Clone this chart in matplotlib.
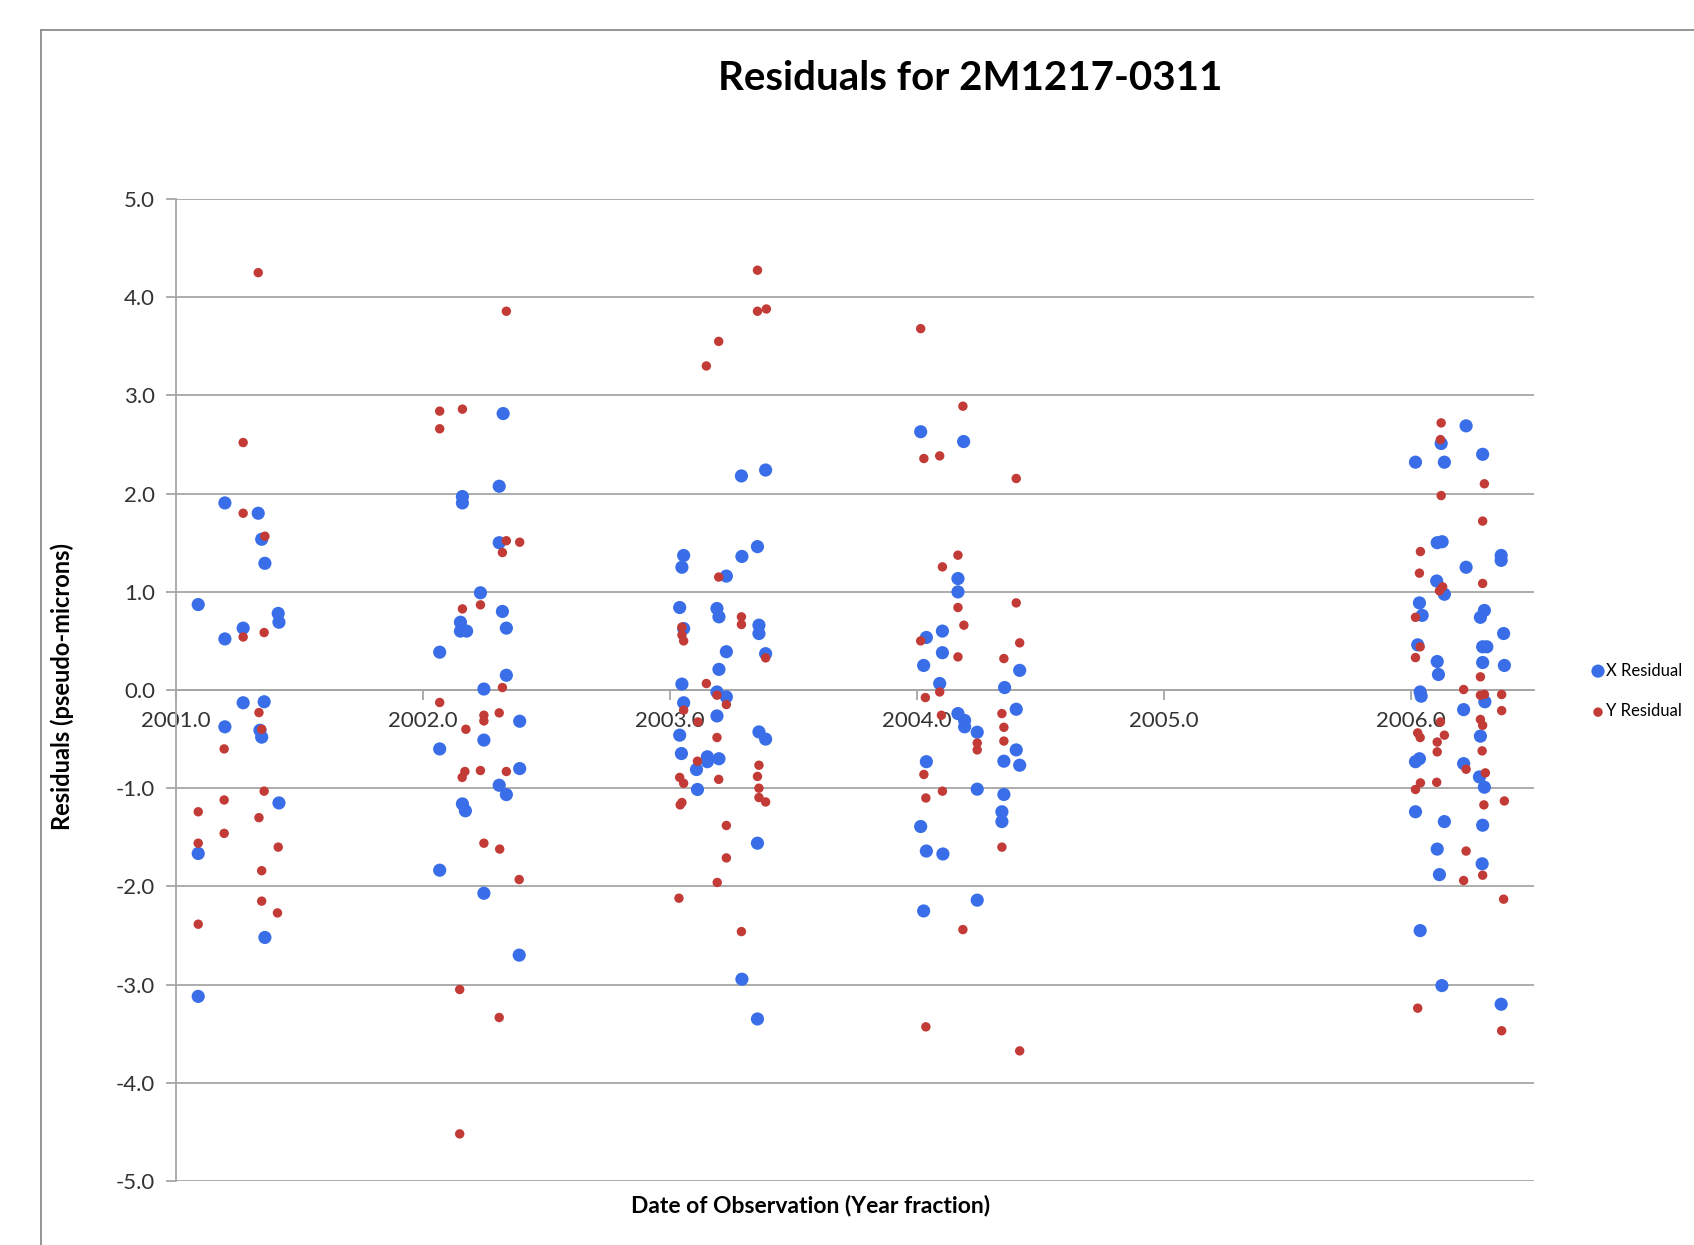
import matplotlib.pyplot as plt
from matplotlib.lines import Line2D
from matplotlib.ticker import FormatStrFormatter, MultipleLocator

plt.rcParams['font.family'] = ['Lato', 'DejaVu Sans']

# X residuals (blue)
x_dates = [
    2001.198, 2001.333, 2001.347, 2001.360, 2001.090, 2001.414, 2001.417, 2001.198, 2001.272,
    2001.272, 2001.357, 2001.198, 2001.340, 2001.347, 2001.417, 2001.090, 2001.360, 2001.090,
    2002.325, 2002.309, 2002.160, 2002.160, 2002.309, 2002.233, 2002.322, 2002.152, 2002.152,
    2002.177, 2002.338, 2002.068, 2002.338, 2002.247, 2002.392, 2002.247, 2002.068, 2002.392,
    2002.309, 2002.338, 2002.160, 2002.172, 2002.068, 2002.247, 2002.390,
    2003.290, 2003.388, 2003.355, 2003.292, 2003.056, 2003.049, 2003.229, 2003.040, 2003.191,
    2003.199, 2003.361, 2003.361, 2003.056, 2003.229, 2003.388, 2003.199, 2003.049, 2003.191,
    2003.229, 2003.056, 2003.191, 2003.040, 2003.361, 2003.388, 2003.047, 2003.152, 2003.152,
    2003.199, 2003.108, 2003.112, 2003.355, 2003.292, 2003.355,
    2004.016, 2004.190, 2004.167, 2004.167, 2004.104, 2004.039, 2004.104, 2004.028, 2004.417,
    2004.093, 2004.356, 2004.167, 2004.194, 2004.194, 2004.403, 2004.245, 2004.403, 2004.353,
    2004.417, 2004.039, 2004.245, 2004.353, 2004.345, 2004.345, 2004.016, 2004.039, 2004.106,
    2004.245, 2004.028,
    2006.225, 2006.124, 2006.292, 2006.020, 2006.137, 2006.108, 2006.128, 2006.367, 2006.367,
    2006.225, 2006.106, 2006.137, 2006.036, 2006.047, 2006.299, 2006.283, 2006.377, 2006.029,
    2006.292, 2006.309, 2006.108, 2006.292, 2006.380, 2006.113, 2006.039, 2006.043, 2006.301,
    2006.215, 2006.283, 2006.036, 2006.020, 2006.215, 2006.279, 2006.299, 2006.020, 2006.137,
    2006.292, 2006.108, 2006.290, 2006.117, 2006.039, 2006.127, 2006.367,
]
x_resid = [
    1.905, 1.80, 1.535, 1.29, 0.87, 0.78, 0.69, 0.52, 0.63,
    -0.13, -0.12, -0.375, -0.41, -0.48, -1.15, -1.665, -2.52, -3.12,
    2.815, 2.075, 1.97, 1.905, 1.50, 0.99, 0.80, 0.69, 0.60,
    0.60, 0.63, 0.385, 0.15, 0.01, -0.318, -0.51, -0.60, -0.80,
    -0.97, -1.065, -1.16, -1.23, -1.835, -2.07, -2.70,
    2.18, 2.24, 1.46, 1.36, 1.37, 1.25, 1.16, 0.84, 0.83,
    0.745, 0.66, 0.575, 0.626, 0.39, 0.37, 0.21, 0.06, -0.02,
    -0.07, -0.13, -0.264, -0.46, -0.427, -0.50, -0.647, -0.68, -0.73,
    -0.70, -0.81, -1.013, -1.56, -2.945, -3.35,
    2.63, 2.53, 1.135, 0.999, 0.60, 0.535, 0.38, 0.25, 0.20,
    0.066, 0.025, -0.24, -0.31, -0.375, -0.196, -0.43, -0.61, -0.725,
    -0.766, -0.73, -1.01, -1.064, -1.24, -1.34, -1.39, -1.64, -1.67,
    -2.14, -2.25,
    2.69, 2.51, 2.40, 2.32, 2.32, 1.50, 1.51, 1.37, 1.32,
    1.25, 1.11, 0.975, 0.887, 0.76, 0.81, 0.74, 0.575, 0.46,
    0.44, 0.44, 0.29, 0.28, 0.25, 0.158, -0.02, -0.063, -0.12,
    -0.20, -0.47, -0.70, -0.73, -0.75, -0.885, -0.99, -1.24, -1.34,
    -1.377, -1.62, -1.77, -1.88, -2.45, -3.01, -3.20,
]

# Y residuals (red)
y_dates = [
    2001.333, 2001.272, 2001.272, 2001.360, 2001.272, 2001.357, 2001.336, 2001.347, 2001.195,
    2001.357, 2001.195, 2001.090, 2001.336, 2001.195, 2001.090, 2001.414, 2001.347, 2001.347,
    2001.411, 2001.090,
    2002.338, 2002.068, 2002.160, 2002.068, 2002.338, 2002.392, 2002.322, 2002.160, 2002.233,
    2002.322, 2002.068, 2002.247, 2002.247, 2002.309, 2002.174, 2002.170, 2002.159, 2002.233,
    2002.338, 2002.247, 2002.311, 2002.390, 2002.149, 2002.309, 2002.149,
    2003.355, 2003.355, 2003.391, 2003.198, 2003.148, 2003.198, 2003.290, 2003.290, 2003.049,
    2003.049, 2003.056, 2003.388, 2003.148, 2003.191, 2003.229, 2003.056, 2003.114, 2003.191,
    2003.112, 2003.361, 2003.355, 2003.198, 2003.040, 2003.056, 2003.361, 2003.361, 2003.388,
    2003.049, 2003.042, 2003.229, 2003.229, 2003.192, 2003.037, 2003.290,
    2004.016, 2004.187, 2004.029, 2004.093, 2004.403, 2004.167, 2004.104, 2004.403, 2004.167,
    2004.191, 2004.016, 2004.417, 2004.167, 2004.353, 2004.093, 2004.035, 2004.100, 2004.345,
    2004.353, 2004.245, 2004.245, 2004.353, 2004.029, 2004.104, 2004.037, 2004.345, 2004.187,
    2004.037, 2004.417,
    2006.124, 2006.121, 2006.299, 2006.124, 2006.292, 2006.040, 2006.036, 2006.292, 2006.130,
    2006.117, 2006.020, 2006.039, 2006.020, 2006.283, 2006.215, 2006.283, 2006.299, 2006.369,
    2006.369, 2006.283, 2006.292, 2006.121, 2006.137, 2006.029, 2006.039, 2006.108, 2006.108,
    2006.290, 2006.225, 2006.303, 2006.040, 2006.020, 2006.106, 2006.380, 2006.297, 2006.225,
    2006.292, 2006.215, 2006.377, 2006.029, 2006.369,
]
y_resid = [
    4.25, 2.52, 1.80, 1.566, 0.54, 0.585, -0.23, -0.40, -0.60,
    -1.03, -1.12, -1.24, -1.30, -1.46, -1.56, -1.60, -1.84, -2.15,
    -2.27, -2.385,
    3.857, 2.84, 2.86, 2.66, 1.52, 1.505, 1.40, 0.826, 0.867,
    0.025, -0.127, -0.257, -0.315, -0.233, -0.40, -0.83, -0.89, -0.82,
    -0.83, -1.56, -1.62, -1.93, -3.05, -3.335, -4.52,
    4.275, 3.857, 3.88, 3.55, 3.30, 1.15, 0.745, 0.667, 0.64,
    0.56, 0.50, 0.327, 0.066, -0.053, -0.148, -0.205, -0.325, -0.484,
    -0.725, -0.766, -0.88, -0.91, -0.89, -0.95, -1.00, -1.095, -1.14,
    -1.146, -1.17, -1.38, -1.71, -1.96, -2.12, -2.46,
    3.68, 2.89, 2.357, 2.384, 2.154, 1.373, 1.254, 0.887, 0.84,
    0.66, 0.50, 0.48, 0.337, 0.32, -0.02, -0.077, -0.257, -0.24,
    -0.38, -0.54, -0.61, -0.52, -0.86, -1.03, -1.10, -1.60, -2.44,
    -3.43, -3.675,
    2.72, 2.55, 2.10, 1.98, 1.72, 1.41, 1.19, 1.085, 1.05,
    1.01, 0.74, 0.44, 0.33, 0.134, 0.005, -0.053, -0.045, -0.046,
    -0.21, -0.30, -0.36, -0.325, -0.46, -0.437, -0.484, -0.53, -0.63,
    -0.62, -0.807, -0.844, -0.946, -1.013, -0.94, -1.13, -1.17, -1.64,
    -1.886, -1.94, -2.13, -3.24, -3.47,
]

year_ticks = [2001, 2002, 2003, 2004, 2005, 2006]

grid_gray = '#a6a6a6'
text_gray = '#333333'
blue = '#3a6ee8'
red = '#c23b36'

fig = plt.figure(figsize=(16.94, 12.45), dpi=100)
ax = fig.add_axes([176 / 1694, 1 - 1181 / 1245, (1534 - 176) / 1694, (1181 - 199) / 1245])

# outer chart border (only top and left edges fall inside the canvas)
fig.add_artist(Line2D([41 / 1694, 1.0], [1 - 30 / 1245] * 2, color='#8c8c8c', lw=1.3,
                      transform=fig.transFigure))
fig.add_artist(Line2D([41 / 1694] * 2, [0.0, 1 - 30 / 1245], color='#8c8c8c', lw=1.3,
                      transform=fig.transFigure))

ax.scatter(x_dates, x_resid, s=90, color=blue, edgecolors='none', label='X Residual', zorder=3)
ax.scatter(y_dates, y_resid, s=46, color=red, edgecolors='none', label='Y Residual', zorder=4)

ax.set_xlim(2001.0, 2006.5)
ax.set_ylim(-5, 5)
ax.yaxis.set_major_locator(MultipleLocator(1))
ax.yaxis.set_major_formatter(FormatStrFormatter('%.1f'))
ax.set_xticks(year_ticks)
ax.xaxis.set_major_formatter(FormatStrFormatter('%.1f'))

ax.grid(axis='y', color=grid_gray, lw=1.3, zorder=0)
ax.set_axisbelow(True)
for side in ('top', 'right'):
    ax.spines[side].set_visible(False)
ax.spines['left'].set_color(grid_gray)
ax.spines['left'].set_linewidth(1.3)
ax.spines['bottom'].set_position(('data', 0))
ax.spines['bottom'].set_color(grid_gray)
ax.spines['bottom'].set_linewidth(1.3)

ax.tick_params(axis='y', length=7, width=1.3, color=grid_gray, pad=8,
               labelsize=16, labelcolor=text_gray)
ax.tick_params(axis='x', length=7, width=1.3, color=grid_gray, pad=8,
               labelsize=16, labelcolor=text_gray)

fig.text(970 / 1694, 1 - 79 / 1245, 'Residuals for 2M1217-0311', ha='center', va='center',
         fontsize=29, fontweight='bold', color='black')
fig.text(811 / 1694, 1 - 1206 / 1245, 'Date of Observation (Year fraction)', ha='center',
         va='center', fontsize=16.5, fontweight='bold', color='black')
fig.text(62 / 1694, 1 - 687 / 1245, 'Residuals (pseudo-microns)', ha='center', va='center',
         rotation=90, fontsize=17, fontweight='bold', color='black')

fig.legend(loc='center left', bbox_to_anchor=(1583 / 1694, 1 - 691 / 1245), frameon=False,
           fontsize=12, handletextpad=0.0, handlelength=1.0, labelspacing=1.5,
           borderaxespad=0, markerscale=1.0)

fig.savefig('out.png', dpi=100)
